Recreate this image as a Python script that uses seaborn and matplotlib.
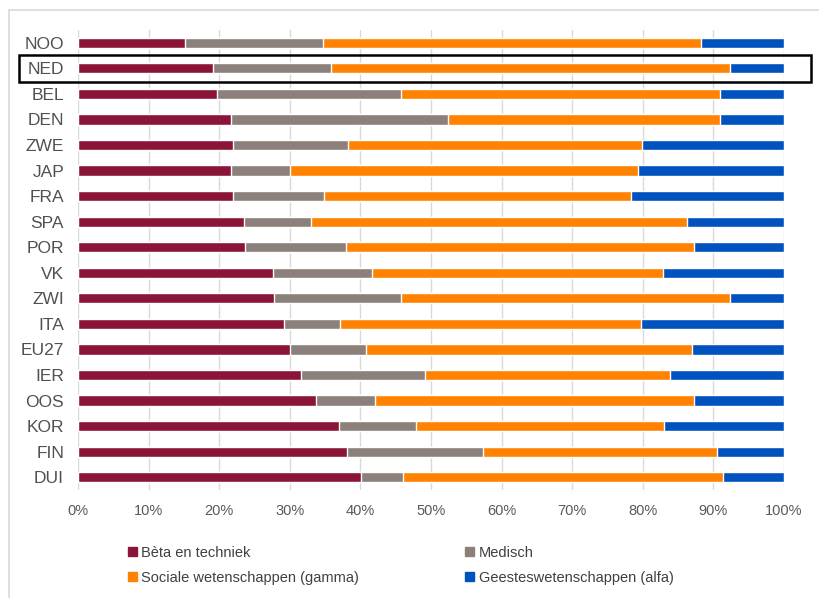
import matplotlib.pyplot as plt
import matplotlib.patches as mpatches
import matplotlib.transforms as mtransforms
import numpy as np
import pandas as pd
import seaborn as sns

countries = ["NOO", "NED", "BEL", "DEN", "ZWE", "JAP", "FRA", "SPA", "POR",
             "VK", "ZWI", "ITA", "EU27", "IER", "OOS", "KOR", "FIN", "DUI"]

# shares per field (percent)
beta = [15.2, 19.1, 19.7, 21.7, 21.9, 21.7, 21.9, 23.5, 23.7,
        27.6, 27.8, 29.2, 30.0, 31.6, 33.7, 36.9, 38.1, 40.1]
medisch = [19.5, 16.8, 26.0, 30.7, 16.4, 8.3, 13.0, 9.5, 14.2,
           14.0, 17.9, 7.9, 10.8, 17.5, 8.3, 11.0, 19.3, 6.0]
gamma = [53.6, 56.5, 45.2, 38.5, 41.6, 49.3, 43.4, 53.2, 49.4,
         41.2, 46.7, 42.6, 46.2, 34.7, 45.2, 35.1, 33.1, 45.2]
alfa = [11.7, 7.6, 9.1, 9.1, 20.1, 20.7, 21.7, 13.8, 12.7,
        17.2, 7.6, 20.3, 13.0, 16.2, 12.8, 17.0, 9.5, 8.7]

series = ["Bèta en techniek", "Medisch", "Sociale wetenschappen (gamma)",
          "Geesteswetenschappen (alfa)"]
colors = ["#8B1538", "#8C807B", "#FF8300", "#0052BE"]

df = pd.DataFrame({"land": countries, series[0]: beta, series[1]: medisch,
                   series[2]: gamma, series[3]: alfa})
vals = df[series].to_numpy()
vals = vals / vals.sum(axis=1, keepdims=True) * 100
cum = np.cumsum(vals, axis=1)

sns.set_theme(style="white")
plt.rcParams["font.family"] = ["Liberation Sans", "DejaVu Sans"]

fig = plt.figure(figsize=(8.2, 5.98), dpi=100)
ax = fig.add_axes([78 / 820, 1 - 490 / 598, 706 / 820, 460 / 598])

# stacked bars: draw cumulative totals from the largest down
for i in range(len(series) - 1, -1, -1):
    layer = pd.DataFrame({"land": countries, "waarde": cum[:, i]})
    sns.barplot(data=layer, x="waarde", y="land", color=colors[i],
                orient="h", width=0.4, saturation=1, ax=ax, zorder=3)

ax.set_xlim(0, 100)
ax.set_ylim(len(countries) - 0.5, -0.5)
ax.set_xticks(np.arange(0, 101, 10))
ax.set_xticklabels([f"{t}%" for t in range(0, 101, 10)])
ax.xaxis.grid(True, color="#D9D9D9", linewidth=1, zorder=0)
ax.set_axisbelow(True)
for s in ax.spines.values():
    s.set_visible(False)
ax.set_xlabel("")
ax.set_ylabel("")
ax.tick_params(axis="y", labelsize=12.5, labelcolor="#505050", pad=10, length=0)
ax.tick_params(axis="x", labelsize=10.5, labelcolor="#595959", pad=10, length=0)

# highlight box around NED
trans = mtransforms.blended_transform_factory(fig.transFigure, ax.transData)
ned = countries.index("NED")
ax.add_patch(mpatches.Rectangle((19 / 820, ned - 0.52), 792 / 820, 1.04,
                                transform=trans, fill=False, edgecolor="black",
                                linewidth=1.8, clip_on=False, zorder=5))

# light frame around the picture
fig.add_artist(mpatches.Rectangle((9 / 820, -0.1), 1.2, 1 - 10 / 598 + 0.1,
                                  transform=fig.transFigure, fill=False,
                                  edgecolor="#D9D9D9", linewidth=1.2))

order = [0, 2, 1, 3]
handles = [mpatches.Patch(color=colors[i], label=series[i]) for i in order]
fig.legend(handles=handles, ncol=2, loc="upper left",
           bbox_to_anchor=(128 / 820, 1 - 546 / 598), frameon=False,
           fontsize=10.5, handlelength=0.6, handleheight=0.6, handletextpad=0.3,
           columnspacing=7.3, labelspacing=0.75, labelcolor="#404040",
           borderaxespad=0, borderpad=0)

fig.savefig("out.png", dpi=100)
